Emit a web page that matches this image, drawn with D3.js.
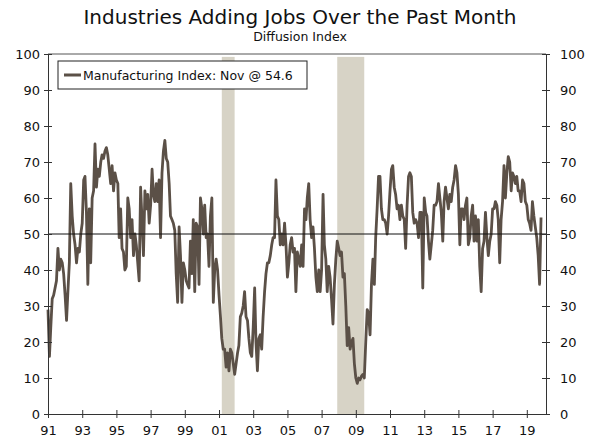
<!DOCTYPE html>
<html>
<head>
<meta charset="utf-8">
<script src="https://cdn.jsdelivr.net/npm/d3@7"></script>
<style>
  body { margin: 0; background: #fff; }
  text { font-family: "DejaVu Sans", Verdana, sans-serif; }
</style>
</head>
<body>
<div id="chart"></div>
<script>
var svgWidth = 600;
var svgHeight = 438;

var margin = {
  top: 54,
  right: 54,
  bottom: 24,
  left: 48
};

var width = svgWidth - margin.left - margin.right;
var height = svgHeight - margin.top - margin.bottom;

// monthly diffusion index, starting Jan 1991 (one row per year)
var startYear = 1991;
var mfgIndex = [
  29, 16, 24, 32, 33, 35, 37, 46, 40, 43, 42, 39,   // 1991
  33, 26, 34, 42, 64, 55, 50, 47, 42, 46, 45, 50,   // 1992
  53, 65, 66, 56, 36, 57, 42, 60, 62, 75, 63, 68,   // 1993
  66, 70, 72, 71, 73, 74, 72, 68, 64, 69, 62, 67,   // 1994
  65, 64, 49, 57, 46, 45, 40, 41, 60, 57, 49, 54,   // 1995
  44, 50, 47, 42, 37, 63, 54, 44, 62, 57, 61, 53,   // 1996
  58, 68, 61, 59, 64, 59, 65, 49, 67, 73, 76, 71,   // 1997
  70, 64, 55, 54, 53, 51, 39, 31, 52, 44, 31, 42,   // 1998
  40, 37, 36, 35, 48, 39, 54, 34, 53, 52, 36, 60,   // 1999
  57, 50, 58, 49, 50, 41, 55, 60, 31, 40, 43, 40,   // 2000
  33, 27, 21, 18, 18, 13, 17, 12, 18, 17, 14, 11,   // 2001
  14, 17, 19, 27, 28, 30, 34, 27, 26, 21, 17, 16,   // 2002
  24, 35, 20, 12, 21, 22, 18, 27, 34, 39, 42, 42,   // 2003
  44, 47, 49, 49, 65, 55, 54, 47, 50, 47, 53, 47,   // 2004
  38, 42, 47, 49, 45, 46, 34, 45, 43, 41, 47, 41,   // 2005
  57, 54, 60, 64, 54, 49, 52, 46, 38, 34, 40, 34,   // 2006
  40, 61, 47, 43, 34, 41, 38, 32, 25, 36, 43, 48,   // 2007
  46, 44, 45, 38, 39, 30, 19, 24, 18, 20, 21, 14,   // 2008
  10, 8.5, 10, 9.5, 10.5, 11, 10, 20, 29, 28, 22, 36, // 2009
  43, 36, 49, 57, 66, 66, 57, 54, 54, 53, 50, 55,   // 2010
  62, 68, 69, 63, 61, 57, 58, 54, 58, 55, 54, 46,   // 2011
  58, 66, 67, 66, 56, 53, 54, 53, 49, 56, 56, 35,   // 2012
  60, 56, 55, 48, 43, 47, 51, 58, 58, 59, 64, 60,   // 2013
  56, 48, 59, 63, 60, 57, 61, 59, 63, 65, 69, 67,   // 2014
  61, 47, 57, 57, 54, 58, 60, 47, 49, 55, 58, 48,   // 2015
  55, 48, 54, 41, 34, 46, 48, 56, 49, 44, 48, 50,   // 2016
  57, 57, 59, 58, 54, 42, 54, 59, 69, 60, 67, 71.5, // 2017
  70, 62, 67, 66, 64, 66, 62, 62, 59, 65, 64, 59,   // 2018
  58, 54, 53, 51, 59, 55, 52, 49, 44, 36, 54.6      // 2019
];

// NBER recessions (start, end)
var recessionStarts = ["2001-03-01", "2007-12-01"];
var recessionEnds = ["2001-11-30", "2009-06-30"];

var yTicks = [0, 10, 20, 30, 40, 50, 60, 70, 80, 90, 100];
var xTickYears = [1991, 1993, 1995, 1997, 1999, 2001, 2003, 2005, 2007, 2009, 2011, 2013, 2015, 2017, 2019];
var legendLabel = "Manufacturing Index: Nov @ 54.6";

var lineColor = "#5b5047";
var shadeColor = "#d7d3c6";
var axisColor = "#333";

var parseDate = d3.timeParse("%Y-%m-%d");

var data = mfgIndex.map(function (v, i) {
  return { date: new Date(startYear, i, 1), value: v };
});

var svg = d3.select("#chart")
  .append("svg")
  .attr("width", svgWidth)
  .attr("height", svgHeight);

// titles
svg.append("text")
  .attr("x", svgWidth / 2)
  .attr("y", 24)
  .attr("text-anchor", "middle")
  .attr("font-size", "20px")
  .attr("fill", "#111")
  .text("Industries Adding Jobs Over the Past Month");

svg.append("text")
  .attr("x", svgWidth / 2)
  .attr("y", 41)
  .attr("text-anchor", "middle")
  .attr("font-size", "12.5px")
  .attr("fill", "#111")
  .text("Diffusion Index");

var chartGroup = svg.append("g")
  .attr("transform", `translate(${margin.left}, ${margin.top})`);

var xScale = d3.scaleTime()
  .domain([new Date(1991, 0, 1), new Date(2020, 1, 15)])
  .range([0, width]);

var yScale = d3.scaleLinear()
  .domain([0, 100])
  .range([height, 0]);

// recession bars
chartGroup.selectAll(".recession")
  .data(recessionStarts)
  .enter()
  .append("rect")
  .attr("class", "recession")
  .attr("x", d => xScale(parseDate(d)))
  .attr("width", (d, i) => xScale(parseDate(recessionEnds[i])) - xScale(parseDate(d)))
  .attr("y", yScale(99.2))
  .attr("height", yScale(0) - yScale(99.2))
  .attr("fill", shadeColor);

// series line
var line = d3.line()
  .x(d => xScale(d.date))
  .y(d => yScale(d.value));

chartGroup.append("path")
  .datum(data)
  .attr("fill", "none")
  .attr("stroke", lineColor)
  .attr("stroke-width", 2.8)
  .attr("stroke-linejoin", "round")
  .attr("d", line);

// 50 reference line
chartGroup.append("line")
  .attr("x1", 0)
  .attr("x2", width)
  .attr("y1", yScale(50))
  .attr("y2", yScale(50))
  .attr("stroke", "#111")
  .attr("stroke-width", 1);

// top frame line
chartGroup.append("line")
  .attr("x1", 0)
  .attr("x2", width)
  .attr("y1", yScale(100))
  .attr("y2", yScale(100))
  .attr("stroke", "#555")
  .attr("stroke-width", 1);

// axes
var leftAxis = d3.axisLeft(yScale)
  .tickValues(yTicks)
  .tickSizeInner(4)
  .tickSizeOuter(0)
  .tickPadding(4);

var rightAxis = d3.axisRight(yScale)
  .tickValues(yTicks)
  .tickSizeInner(4)
  .tickSizeOuter(0)
  .tickPadding(10);

var bottomAxis = d3.axisBottom(xScale)
  .tickValues(xTickYears.map(y => new Date(y, 0, 1)))
  .tickFormat(d3.timeFormat("%y"))
  .tickSizeInner(4)
  .tickSizeOuter(0)
  .tickPadding(8);

var yAxisL = chartGroup.append("g").call(leftAxis);
var yAxisR = chartGroup.append("g")
  .attr("transform", `translate(${width}, 0)`)
  .call(rightAxis);
var xAxis = chartGroup.append("g")
  .attr("transform", `translate(0, ${height})`)
  .call(bottomAxis);

// ticks cross the axis lines
yAxisL.selectAll(".tick line").attr("x1", 4);
yAxisR.selectAll(".tick line").attr("x1", -4);
xAxis.selectAll(".tick line").attr("y1", -4);

[yAxisL, yAxisR, xAxis].forEach(function (ax) {
  ax.select(".domain").attr("stroke", axisColor);
  ax.selectAll(".tick line").attr("stroke", axisColor);
  ax.selectAll("text")
    .attr("font-family", "DejaVu Sans, Verdana, sans-serif")
    .attr("font-size", "13px")
    .attr("fill", "#111");
});

// legend
var legend = svg.append("g")
  .attr("transform", "translate(58, 61)");

legend.append("rect")
  .attr("width", 249)
  .attr("height", 28)
  .attr("fill", "#fff")
  .attr("stroke", "#222")
  .attr("stroke-width", 1);

legend.append("line")
  .attr("x1", 6)
  .attr("x2", 23)
  .attr("y1", 14)
  .attr("y2", 14)
  .attr("stroke", lineColor)
  .attr("stroke-width", 3);

legend.append("text")
  .attr("x", 25)
  .attr("y", 18.5)
  .attr("font-size", "12.5px")
  .attr("fill", "#111")
  .text(legendLabel);
</script>
</body>
</html>
